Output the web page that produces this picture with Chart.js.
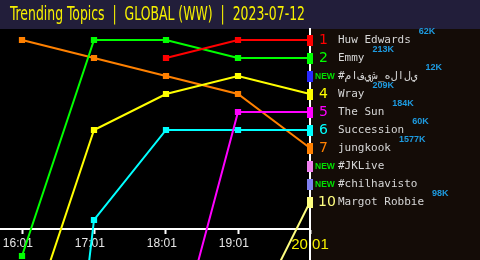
<!DOCTYPE html>
<html>
<head>
<meta charset="utf-8">
<script src="https://cdn.jsdelivr.net/npm/chart.js@4.4.0/dist/chart.umd.min.js"></script>
<style>
    html, body { margin: 0; padding: 0; background: #000; }
    canvas { display: block; }
</style>
</head>
<body>
<canvas id="chart" width="480" height="260"></canvas>
<script>
// Trending topics, rank per hourly snapshot (lower = better)
const TITLE = 'Trending Topics  |  GLOBAL (WW)  |  2023-07-12';
const times = ['16:01', '17:01', '18:01', '19:01', '20:01'];

const topics = ['Huw Edwards', 'Emmy', '#مافيش_هلالي', 'Wray', 'The Sun',
    'Succession', 'jungkook', '#JKLive', '#chilhavisto', 'Margot Robbie'];
const volumes = ['62K', '213K', '12K', '209K', '184K', '60K', '1577K', '', '', '98K'];
const isNew = [false, false, true, false, false, false, false, true, true, false];

const huwEdwards   = [null, null, 2, 1, 1];
const emmy         = [13, 1, 1, 2, 2];
const arabicTag    = [null, null, null, null, 3];
const wray         = [18, 6, 4, 3, 4];
const theSun       = [null, null, 20, 5, 5];
const succession   = [45, 11, 6, 6, 6];
const jungkook     = [1, 2, 3, 4, 7];
const jkLive       = [null, null, null, null, 8];
const chilhavisto  = [null, null, null, null, 9];
const margotRobbie = [null, null, null, 18, 10];

const series = [huwEdwards, emmy, arabicTag, wray, theSun, succession, jungkook, jkLive, chilhavisto, margotRobbie];
const colors = ['#ff0000', '#00ff00', '#2828ff', '#ffff00', '#ff00ff',
    '#00ffff', '#ff8000', '#f080f0', '#8080f0', '#ffff80'];

const HEADER_BG = '#221e3a';
const PANEL_BG = '#140c07';
const lastIdx = times.length - 1;

// tall bar marker used at the latest snapshot
function endMarker(color) {
    const c = document.createElement('canvas');
    c.width = 6;
    c.height = 11;
    const g = c.getContext('2d');
    g.fillStyle = color;
    g.fillRect(0, 0, c.width, c.height);
    return c;
}
const endMarkers = colors.map(endMarker);

// show arabic letters isolated, left to right
function displayName(name) {
    if (!/[\u0600-\u06ff]/.test(name)) return name;
    return '\u202D' + Array.from(name).join('\u200C') + '\u202C';
}

// no extra room for tick labels: the plot fills the box
function noPadding(scale) {
    scale.paddingLeft = 0;
    scale.paddingRight = 0;
    scale.paddingTop = 0;
    scale.paddingBottom = 0;
}

const panelPlugin = {
    id: 'panel',
    beforeDraw(chart) {
        const { ctx, chartArea: a, width, height } = chart;
        ctx.save();
        ctx.fillStyle = HEADER_BG;
        ctx.fillRect(0, 0, width, a.top);
        ctx.fillStyle = '#000';
        ctx.fillRect(0, a.top, a.right, height - a.top);
        ctx.fillStyle = PANEL_BG;
        ctx.fillRect(a.right, a.top, width - a.right, height - a.top);

        // title, squeezed to the header width
        ctx.font = '19px "Liberation Sans Narrow", "DejaVu Sans Condensed", sans-serif';
        ctx.fillStyle = '#f6f000';
        ctx.textBaseline = 'alphabetic';
        const w = ctx.measureText(TITLE).width;
        ctx.translate(10, 20);
        ctx.scale(295 / w, 1);
        ctx.fillText(TITLE, 0, 0);
        ctx.restore();
    },
    afterDraw(chart) {
        const { ctx } = chart;
        const yScale = chart.scales.y;
        ctx.save();
        ctx.textBaseline = 'middle';
        topics.forEach((name, i) => {
            const y = yScale.getPixelForValue(i + 1);
            if (isNew[i]) {
                ctx.font = 'bold 8.5px "Liberation Sans", sans-serif';
                ctx.fillStyle = '#00e000';
                ctx.fillText('NEW', 315, y + 0.5);
            } else {
                ctx.font = '14px "DejaVu Sans", sans-serif';
                ctx.fillStyle = colors[i];
                ctx.fillText(String(i + 1), i === 9 ? 318 : 319, y);
            }
            ctx.font = '11px "DejaVu Sans Mono", monospace';
            ctx.fillStyle = '#d6d6d6';
            const label = displayName(name);
            ctx.fillText(label, 338, y);
            const nw = ctx.measureText(label).width;
            if (volumes[i]) {
                ctx.font = 'bold 9px "Liberation Sans", sans-serif';
                ctx.fillStyle = '#1e9be0';
                ctx.fillText(volumes[i], 338 + nw + 8, y - 8);
            }
        });
        ctx.restore();
    }
};

const datasets = series.map((ranks, i) => ({
    label: topics[i],
    data: ranks.map((r, k) => ({ x: k, y: r })),
    borderColor: colors[i],
    backgroundColor: colors[i],
    borderWidth: 2,
    tension: 0,
    clip: false,
    pointRadius: 3,
    pointStyle: (c) => c.dataIndex === lastIdx ? endMarkers[c.datasetIndex] : 'rect'
}));

new Chart(document.getElementById('chart'), {
    type: 'line',
    data: { datasets },
    options: {
        responsive: false,
        animation: false,
        layout: { autoPadding: false, padding: { top: 29, right: 170, left: 0, bottom: 0 } },
        plugins: {
            legend: { display: false },
            tooltip: { enabled: false }
        },
        scales: {
            x: {
                type: 'linear',
                min: -22 / 72,
                max: lastIdx,
                position: { y: 11.5 },
                afterBuildTicks: (scale) => {
                    scale.ticks = times.map((t, k) => ({ value: k }));
                },
                afterFit: noPadding,
                grid: {
                    drawOnChartArea: false,
                    drawTicks: true,
                    tickLength: 4,
                    tickWidth: 2,
                    color: '#ffffff'
                },
                border: { display: true, color: '#ffffff', width: 2 },
                ticks: {
                    padding: 3,
                    maxRotation: 0,
                    autoSkip: false,
                    callback: (v, k) => k === lastIdx ? times[k] : times[k] + '\u2002\u2009',
                    color: (c) => c.index === lastIdx ? '#f6f000' : '#e6e6e6',
                    font: (c) => c.index === lastIdx
                        ? { family: '"Liberation Sans", sans-serif', size: 15 }
                        : { family: '"Liberation Sans", sans-serif', size: 12 }
                }
            },
            y: {
                type: 'linear',
                reverse: true,
                min: 1 - 11 / 18,
                max: 1 + 220 / 18,
                position: { x: lastIdx },
                afterFit: noPadding,
                grid: { display: false },
                ticks: { display: false },
                border: { display: true, color: '#ffffff', width: 2 }
            }
        }
    },
    plugins: [panelPlugin]
});
</script>
</body>
</html>
